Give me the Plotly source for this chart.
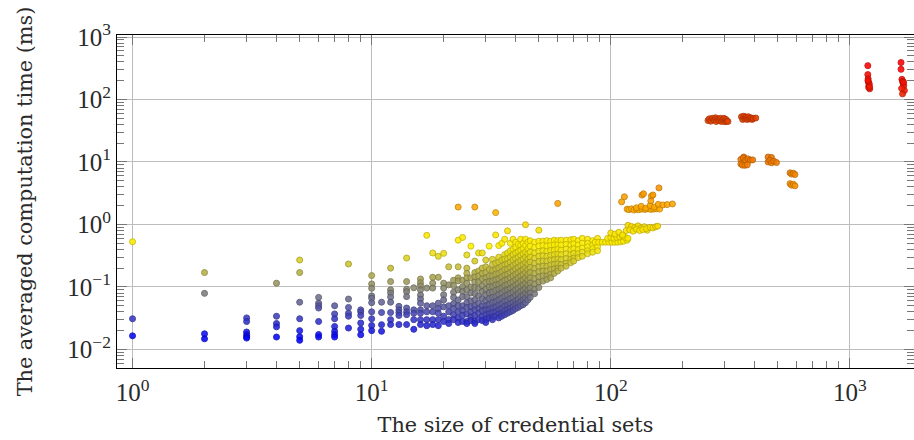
import math
import plotly.graph_objects as go

x_title = "The size of credential sets"
y_title = "The averaged computation time (ms)"
x_ticks = [1, 10, 100, 1000]
x_labels = ["10<sup>0</sup>", "10<sup>1</sup>", "10<sup>2</sup>", "10<sup>3</sup>"]
y_ticks = [0.01, 0.1, 1, 10, 100, 1000]
y_labels = ["10<sup>−2</sup>", "10<sup>−1</sup>", "10<sup>0</sup>", "10<sup>1</sup>", "10<sup>2</sup>", "10<sup>3</sup>"]

column_sizes = [1, 2, 3, 4, 5, 6, 7, 8, 9, 10, 11, 12, 13, 14, 15, 16, 17,
                18, 19, 20, 21, 22, 23, 24, 25, 26, 27, 28, 29, 30, 31, 32, 33, 34, 35, 36,
                37, 38, 39, 40, 41, 42, 43, 44, 45, 46, 48, 50, 52, 54, 56, 58, 60, 62, 65,
                68, 70, 73, 76, 80, 84, 88]
column_times = [
    [.53, .031, .0165],
    [.17, .079, .0178, .0148],
    [.032, .028, .019, .0172, .016, .0152],
    [.115, .034, .026, .023, .0158],
    [.27, .17, .057, .031, .02, .016, .014],
    [.068, .055, .05, .046, .028, .0173, .0158],
    [.05, .037, .031, .0233, .0195, .0173, .0158],
    [.233, .064, .047, .038, .034, .022],
    [.043, .04, .035, .0265, .021, .0172],
    [.152, .112, .095, .072, .066, .056, .04, .031, .0242, .02],
    [.057, .039, .0249, .0195],
    [.2, .122, .09, .08, .069, .057, .039, .03, .025],
    [.049, .043, .039, .035, .025],
    [.29, .122, .092, .084, .07, .046, .04, .036, .025],
    [.097, .043, .038, .03, .021],
    [.134, .117, .104, .09, .074, .064, .055, .043, .038, .03, .025],
    [.67, .096, .05, .04, .03, .024],
    [.35, .143, .115, .096, .05, .04, .03, .025],
    [.31, .143, .055, .045, .038, .03, .024],
    [.345, .115, .096, .075, .062, .048, .034, .028],
    [.21, .108, .05, .04, .03, .026],
    [.128, .105, .082, .068, .054, .045, .036, .03],
    [1.9, .56, .21, .14, .125, .09, .062, .05, .04, .032, .027],
    [.62, .128, .1, .085, .07, .05, .042, .035, .028],
    [.325, .2, .165, .14, .115, .09, .07, .056, .047, .037, .028, .026],
    [.45, .14, .1, .08, .06, .048, .04, .033, .029],
    [1.9, .26, .17, .145, .12, .098, .078, .062, .05, .043, .035, .028, .026],
    [.35, .18, .15, .12, .095, .072, .055, .045, .038, .03],
    [.35, .2, .165, .135, .105, .085, .065, .05, .042, .034, .029],
    [.27, .21, .17, .14, .118, .092, .075, .06, .05, .043, .036, .03, .027],
    [.45, .19, .15, .122, .1, .08, .065, .053, .044, .037, .032],
    [.277, .23, .185, .15, .125, .102, .083, .068, .056, .046, .039, .033, .03],
    [1.55, .68, .24, .19, .16, .13, .108, .088, .07, .058, .048, .04, .034],
    [.46, .3, .25, .2, .165, .135, .11, .092, .076, .062, .051, .043, .037, .032],
    [.5, .27, .215, .175, .145, .118, .097, .08, .066, .054, .045, .038, .034],
    [.58, .33, .28, .225, .19, .155, .128, .105, .087, .071, .059, .049, .042, .036],
    [.79, .35, .285, .235, .195, .16, .132, .11, .09, .075, .061, .051, .044, .038],
    [.5, .38, .3, .25, .205, .17, .14, .116, .095, .079, .065, .054, .046, .04],
    [.58, .4, .33, .27, .22, .18, .15, .122, .1, .083, .068, .056, .048, .042],
    [.52, .43, .35, .285, .235, .195, .16, .132, .108, .09, .074, .06, .052, .045],
    [.48, .37, .3, .25, .205, .17, .14, .115, .095, .078, .064, .054, .047],
    [.58, .46, .39, .32, .265, .22, .18, .15, .125, .102, .085, .07, .058, .05],
    [.5, .41, .34, .28, .23, .19, .158, .13, .108, .09, .074, .062, .052],
    [.99, .58, .46, .36, .3, .245, .205, .17, .14, .115, .095, .08, .066, .056],
    [.52, .41, .34, .28, .232, .19, .158, .13, .108, .09, .075, .062],
    [.55, .45, .36, .3, .25, .205, .17, .14, .116, .096, .08, .068],
    [.52, .43, .35, .29, .24, .198, .165, .136, .112, .092, .078],
    [.81, .54, .45, .37, .31, .255, .21, .175, .145, .12, .098],
    [.54, .46, .38, .315, .26, .215, .18, .15, .124],
    [.55, .45, .375, .31, .26, .215, .18, .15, .132],
    [.54, .46, .385, .32, .27, .225, .19, .16, .14],
    [.56, .47, .39, .33, .275, .23, .195, .165],
    [2.17, .55, .47, .4, .335, .28, .235, .2, .18],
    [.56, .47, .39, .33, .275, .23, .2],
    [.56, .48, .405, .34, .285, .24, .215],
    [.57, .47, .395, .33, .28, .245],
    [.58, .49, .41, .345, .29, .26],
    [.55, .47, .4, .34, .295],
    [.6, .5, .42, .36, .31],
    [.58, .5, .44, .38, .34],
    [.55, .47, .41, .36],
    [.6, .51, .44, .38],
]

tail_sizes = [86, 89, 92, 95, 98, 101, 104, 107, 110, 113, 117, 97, 100, 103, 106, 109, 112, 115, 118, 100, 104,
              108, 112, 116, 118, 122, 126, 130, 134, 138, 142, 120, 124, 128, 132, 136, 141, 146, 150, 154, 157,
              117, 119, 122, 125, 128, 131, 135, 139, 143, 147, 151, 155, 160, 128, 134, 140, 146, 152, 158, 165, 172, 181,
              147, 114, 111, 135, 137, 148, 150, 159]
tail_times = [.52, .52, .52, .52, .52, .52, .52, .52, .53, .54, .56, .6, .62, .6, .62, .63, .65, .62, .6, .73, .7,
              .75, .68, .8, .97, .93, .9, .95, .88, .92, .81, .82, .78, .84, .8, .83, .86, .9, .88, .92, .94,
              1.76, 1.72, 1.78, 1.7, 1.75, 1.72, 1.76, 1.74, 1.78, 1.74, 1.76, 1.78, 1.76, 1.85, 1.95, 1.82, 2.0, 1.9, 2.1, 2.05, 2.08, 2.13,
              2.39, 2.77, 2.3, 2.95, 3.1, 2.85, 2.96, 3.85]

cluster_sizes = [255, 258, 262, 266, 270, 274, 276, 280, 283, 287, 290, 294, 297, 300, 303, 306, 309,
                 352, 356, 360, 364, 368, 372, 376, 380, 385, 390, 394, 404,
                 360, 350, 358, 366, 375, 383, 392, 350, 355, 364, 372,
                 455, 470, 455, 462, 470, 480, 493,
                 562, 570, 580, 589, 562, 570, 580, 589,
                 1188, 1188, 1192, 1195, 1200, 1205, 1210, 1198, 1190, 1208,
                 1636, 1636, 1650, 1660, 1670, 1680, 1690, 1660, 1645, 1675]
cluster_times = [46, 49, 45, 50, 47, 51, 44.5, 49, 46, 50, 44.5, 47, 50, 44, 48, 45, 44.5,
                 53, 48, 54, 49, 52, 48, 53, 49, 51, 48, 50, 50.5,
                 12, 11, 11.6, 10.6, 11.2, 10.7, 10.8, 9.3, 8.9, 8.85, 9,
                 12, 11.8, 10, 10.6, 9.7, 10.3, 9.8,
                 6.7, 6.4, 6.6, 6.3, 4.5, 4.25, 4.4, 4.15,
                 348, 250, 214, 190, 166, 178, 148, 155, 200, 160,
                 390, 304, 210, 195, 180, 166, 139, 123, 150, 190]

sizes, times = [], []
for s, col in zip(column_sizes, column_times):
    for t in col:
        sizes.append(s)
        times.append(t)
sizes += tail_sizes + cluster_sizes
times += tail_times + cluster_times
levels = [math.log10(t) for t in times]

lo, hi = -1.85, 2.5
stops = [(-1.85, (0, 0, 255)), (-1.1, (125, 125, 125)), (-0.35, (255, 240, 0)), (-0.05, (250, 225, 0)),
         (0.25, (255, 170, 0)), (1.04, (240, 120, 0)), (1.68, (225, 65, 0)), (2.5, (255, 0, 0))]
def scale(f):
    return [[(v - lo) / (hi - lo), "rgb(%d,%d,%d)" % tuple(int(c * f) for c in col)] for v, col in stops]

fig = go.Figure(go.Scatter(
    x=sizes, y=times, mode="markers", cliponaxis=False,
    marker=dict(size=6, opacity=0.88, color=levels, cmin=lo, cmax=hi, colorscale=scale(1),
                line=dict(width=1, color=levels, cmin=lo, cmax=hi, colorscale=scale(0.78))),
))

minor_x = [m * 10 ** e for e in range(0, 4) for m in range(2, 10)]
minor_y = [m * 10.0 ** e for e in range(-3, 4) for m in range(2, 10)]
ink = "#2a2a2a"
tickfont = dict(family="Liberation Serif", size=25, color=ink)
title_font = dict(family="DejaVu Serif", size=20.8, color=ink)
common = dict(type="log", showline=True, linecolor="black", linewidth=1.2, mirror="ticks",
              ticks="inside", ticklen=10, tickcolor="#777777", tickwidth=1,
              gridcolor="#bdbdbd", gridwidth=1, zeroline=False, tickfont=tickfont)
fig.update_layout(
    width=914, height=440, showlegend=False, paper_bgcolor="white", plot_bgcolor="white",
    margin=dict(l=116.5, r=0, t=34.5, b=71.5),
    xaxis=dict(common, range=[-0.065, 3.268], tickmode="array", tickvals=x_ticks, ticktext=x_labels, ticklabelstandoff=2,
               minor=dict(ticks="inside", ticklen=7, tickcolor="#777777", tickwidth=1, tickmode="array", tickvals=minor_x, showgrid=False),
               title=dict(text=x_title, standoff=12, font=title_font)),
    yaxis=dict(common, range=[-2.297, 3.032], tickmode="array", tickvals=y_ticks, ticktext=y_labels,
               minor=dict(ticks="inside", ticklen=7, tickcolor="#777777", tickwidth=1, tickmode="array", tickvals=minor_y, showgrid=False),
               title=dict(text=y_title, standoff=28, font=title_font)),
)
fig.write_html("out.html", config={"displayModeBar": False},
               post_script="document.body.style.margin='0';document.body.style.overflow='hidden';")
